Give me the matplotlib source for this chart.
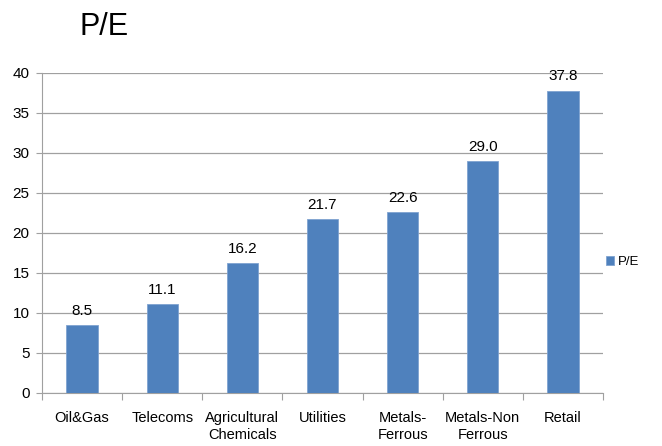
import matplotlib
matplotlib.use("Agg")
import matplotlib.pyplot as plt
import numpy as np

plt.rcParams['font.family'] = ['Liberation Sans', 'DejaVu Sans']

categories = ["Oil&Gas", "Telecoms", "Agricultural\nChemicals", "Utilities",
              "Metals-\nFerrous", "Metals-Non\nFerrous", "Retail"]
pe_values = [8.5, 11.1, 16.2, 21.7, 22.6, 29.0, 37.8]
y_ticks = [0, 5, 10, 15, 20, 25, 30, 35, 40]

BAR_COLOR = "#4F81BD"
GRID_COLOR = "#A0A0A0"

fig = plt.figure(figsize=(6.62, 4.46), dpi=100)
ax = fig.add_axes([42 / 662, 1 - 393 / 446, 561 / 662, 320 / 446])

x = np.arange(len(categories))
bars = ax.bar(x, pe_values, width=0.39, color=BAR_COLOR, edgecolor="#7FA3D0",
              linewidth=0.6, label="P/E", zorder=3)

for xi, v in zip(x, pe_values):
    ax.text(xi, v + 0.9, f"{v:.1f}", ha="center", va="bottom", fontsize=11, color="black")

ax.set_xlim(-0.5, len(categories) - 0.5)
ax.set_ylim(0, 40)
ax.set_yticks(y_ticks)
ax.set_yticklabels([str(t) for t in y_ticks], fontsize=11)
ax.yaxis.grid(True, color=GRID_COLOR, linewidth=0.9, zorder=0)

# category labels between boundary tick marks, Excel style
ax.set_xticks(np.arange(len(categories) + 1) - 0.5)
ax.set_xticklabels([])
ax.set_xticks(x, minor=True)
ax.set_xticklabels(categories, minor=True, fontsize=10.5, linespacing=1.3)
ax.tick_params(axis="x", which="minor", length=0, pad=13)
ax.tick_params(axis="x", which="major", length=5, color=GRID_COLOR)
ax.tick_params(axis="y", length=4, color=GRID_COLOR, pad=5)

for side in ["top", "right"]:
    ax.spines[side].set_visible(False)
ax.spines["left"].set_color(GRID_COLOR)
ax.spines["bottom"].set_color(GRID_COLOR)

fig.text(79 / 662, 1 - 27 / 446, "P/E", fontsize=22, ha="left", va="center")

fig.legend(handles=[bars], labels=["P/E"], loc="center left",
           bbox_to_anchor=(594 / 662, 1 - 262 / 446), frameon=False,
           fontsize=9.5, handlelength=0.6, handleheight=0.6, handletextpad=0.3)

fig.savefig("out.png", dpi=100)
